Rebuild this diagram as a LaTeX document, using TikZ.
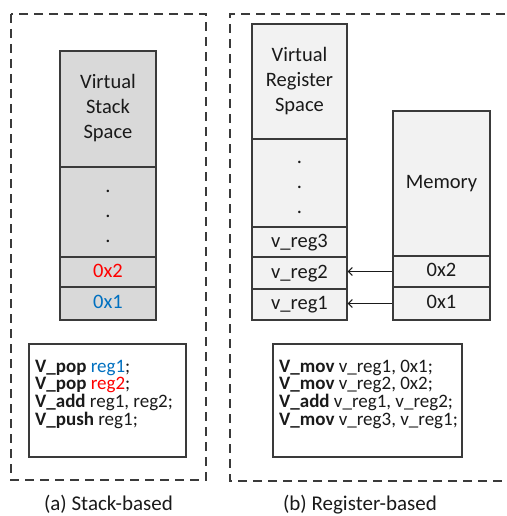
\documentclass[tikz,border=0pt]{standalone}
\usepackage{fontspec}
\setmainfont{Carlito}
\usetikzlibrary{arrows.meta}
\definecolor{edge}{HTML}{3A3A3A}
\definecolor{stackfill}{HTML}{D9D9D9}
\definecolor{regfill}{HTML}{F2F2F2}
\definecolor{txt}{HTML}{1A1A1A}
\definecolor{hotred}{HTML}{FF0000}
\definecolor{coolblue}{HTML}{0070C0}
% centred cell text, lines 25pt apart, set slightly below the geometric middle
\newcommand{\celltext}[2][2.5pt]{\raisebox{-#1}{\begin{tabular}{@{}c@{}}#2\end{tabular}}}
% left-aligned listing with a fixed 17.6pt line pitch
\newcommand{\listing}[1]{\vbox{\baselineskip=17.6pt\lineskiplimit=-50pt\lineskip=0pt #1}}
\tikzset{
  cell/.style={draw=edge, line width=1.3pt, rectangle, inner sep=0pt, text=txt,
    font=\fontsize{20.5}{25}\selectfont},
  stackcell/.style={cell, fill=stackfill, minimum width=96pt},
  regcell/.style={cell, fill=regfill, minimum width=95pt},
  memcell/.style={cell, fill=regfill, minimum width=97pt},
  codebox/.style={draw=edge, line width=1.2pt, rectangle, inner sep=0pt, fill=white},
  codetext/.style={anchor=base west, inner sep=0pt, text=txt,
    font=\fontsize{19}{17.6}\selectfont},
  frame/.style={draw=edge, line width=1.1pt, dash pattern=on 9pt off 6pt},
  caption/.style={anchor=base, inner sep=0pt, text=txt, font=\fontsize{21}{25}\selectfont},
  link/.style={draw=txt, line width=1pt, -{Straight Barb[length=4pt,width=8pt,line width=1pt]}}
}
\begin{document}
\begin{tikzpicture}[x=1pt,y=-1pt]
\useasboundingbox (0,0) rectangle (506,516);

% outer dashed frames
\draw[frame] (11,14) rectangle (206,480);
\draw[frame] (520,14) -- (230,14) -- (230,481) -- (520,481);

% stack-based column
\node[stackcell, minimum height=116pt] (stTop) at (108,109) {\celltext{Virtual\\Stack\\Space}};
\node[stackcell, minimum height=90pt] (stDots) at (108,212) {\celltext[1.5pt]{.\\.\\.}};
\node[stackcell, minimum height=30pt, text=hotred] (st2) at (108,272) {\celltext{0x2}};
\node[stackcell, minimum height=33pt, text=coolblue] (st1) at (108,303.5) {\celltext{0x1}};

% register-based column
\node[regcell, minimum height=115pt] (rgTop) at (299.5,81.5) {\celltext{Virtual\\Register\\Space}};
\node[regcell, minimum height=88pt] (rgDots) at (299.5,183) {\celltext[1.5pt]{.\\.\\.}};
\node[regcell, minimum height=30pt] (rg3) at (299.5,242) {\celltext{v\_reg3}};
\node[regcell, minimum height=32pt] (rg2) at (299.5,273) {\celltext{v\_reg2}};
\node[regcell, minimum height=31pt] (rg1) at (299.5,304.5) {\celltext{v\_reg1}};

% memory column
\node[memcell, minimum height=145pt] (memTop) at (441.5,183.5) {\celltext{Memory}};
\node[memcell, minimum height=31pt] (mem2) at (441.5,271.5) {\celltext{0x2}};
\node[memcell, minimum height=33pt] (mem1) at (441.5,303.5) {\celltext{0x1}};

% loads from memory into registers
\draw[link] (mem2.west) -- (rg2.east |- mem2.west);
\draw[link] (mem1.west) -- (rg1.east |- mem1.west);

% instruction listings
\node[codebox, minimum width=157pt, minimum height=113pt] (codeA) at (107.5,400.5) {};
\node[codetext] (listA) at (35,425) {\listing{%
  \hbox{\textbf{V\_pop} \textcolor{coolblue}{reg1};}
  \hbox{\textbf{V\_pop} \textcolor{hotred}{reg2};}
  \hbox{\textbf{V\_add} reg1, reg2;}
  \hbox{\textbf{V\_push} reg1;}}};

\node[codebox, minimum width=189pt, minimum height=113pt] (codeB) at (367.5,400.5) {};
\node[codetext] (listB) at (279,425) {\listing{%
  \hbox{\textbf{V\_mov} v\_reg1, 0x1;}
  \hbox{\textbf{V\_mov} v\_reg2, 0x2;}
  \hbox{\textbf{V\_add} v\_reg1, v\_reg2;}
  \hbox{\textbf{V\_mov} v\_reg3, v\_reg1;}}};

% captions
\node[caption] (capA) at (108.5,510.5) {(a) Stack-based};
\node[caption] (capB) at (360,510.5) {(b) Register-based};
\end{tikzpicture}
\end{document}
